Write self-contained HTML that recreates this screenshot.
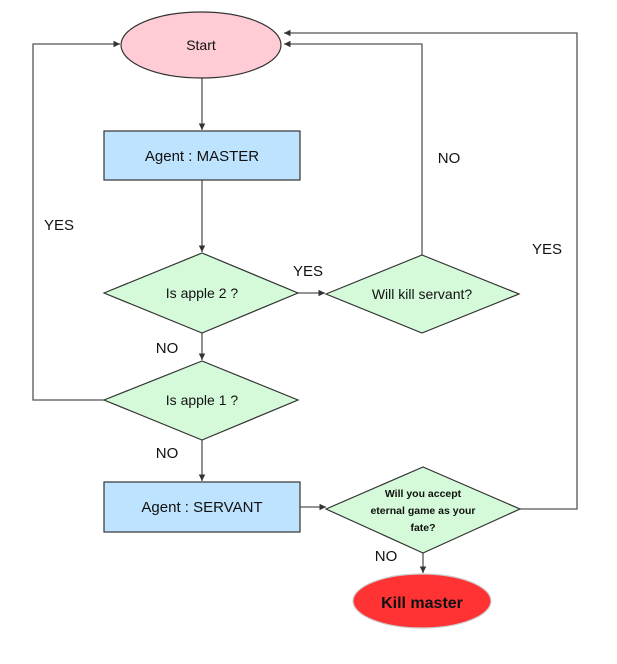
<!DOCTYPE html>
<html><head><style>body{margin:0;background:#fff}svg{display:block}text{font-family:"Liberation Sans",sans-serif;fill:#111}</style></head>
<body>
<svg width="617" height="664" viewBox="0 0 617 664" xmlns="http://www.w3.org/2000/svg">
<defs><marker id="a" markerWidth="6" markerHeight="6" refX="5" refY="3" orient="auto"><path d="M0,0.5 L5,3 L0,5.5 z" fill="#333"/></marker></defs>
<g stroke="#555" stroke-width="1.3" fill="none">
<line x1="202" y1="78" x2="202" y2="130" marker-end="url(#a)"/>
<line x1="202" y1="180" x2="202" y2="252" marker-end="url(#a)"/>
<line x1="298" y1="293" x2="325" y2="293" marker-end="url(#a)"/>
<polyline points="422,255 422,44 284,44" marker-end="url(#a)"/>
<polyline points="520,509 577,509 577,33 284,33" marker-end="url(#a)"/>
<polyline points="104,400 33,400 33,44 120,44" marker-end="url(#a)"/>
<line x1="202" y1="333" x2="202" y2="360" marker-end="url(#a)"/>
<line x1="202" y1="440" x2="202" y2="481" marker-end="url(#a)"/>
<line x1="300" y1="507" x2="326" y2="507" marker-end="url(#a)"/>
<line x1="423" y1="553" x2="423" y2="573" marker-end="url(#a)"/>
</g>
<g stroke="#333" stroke-width="1.2">
<ellipse cx="201" cy="45" rx="80" ry="33" fill="#ffccd5"/>
<rect x="104" y="131" width="196" height="49" fill="#bde3ff"/>
<polygon points="104,293 202,253 298,293 202,333" fill="#d4fad9"/>
<polygon points="326,294 422,255 519,294 422,333" fill="#d4fad9"/>
<polygon points="104,400 202,361 298,400 202,440" fill="#d4fad9"/>
<rect x="104" y="482" width="196" height="50" fill="#bde3ff"/>
<polygon points="326,509 423,467 520,509 423,553" fill="#d4fad9"/>
<ellipse cx="422" cy="601" rx="69" ry="27" fill="#ff3333" stroke="#ccc"/>
</g>
<g font-size="15" text-anchor="middle">
<text x="201" y="50" font-size="14">Start</text>
<text x="202" y="161">Agent :  MASTER</text>
<text x="202" y="298" font-size="14">Is apple 2 ?</text>
<text x="422" y="299" font-size="14">Will kill servant?</text>
<text x="202" y="405" font-size="14">Is apple 1 ?</text>
<text x="202" y="512">Agent :  SERVANT</text>
<text x="423" y="497" font-size="10.5" font-weight="bold">Will you accept</text>
<text x="423" y="514" font-size="10.5" font-weight="bold">eternal game as your</text>
<text x="423" y="531" font-size="10.5" font-weight="bold">fate?</text>
<text x="422" y="608" font-size="16" font-weight="bold">Kill master</text>
<text x="59" y="230">YES</text>
<text x="449" y="163">NO</text>
<text x="547" y="254">YES</text>
<text x="308" y="276">YES</text>
<text x="167" y="353">NO</text>
<text x="167" y="458">NO</text>
<text x="386" y="561">NO</text>
</g>
</svg>
</body></html>
